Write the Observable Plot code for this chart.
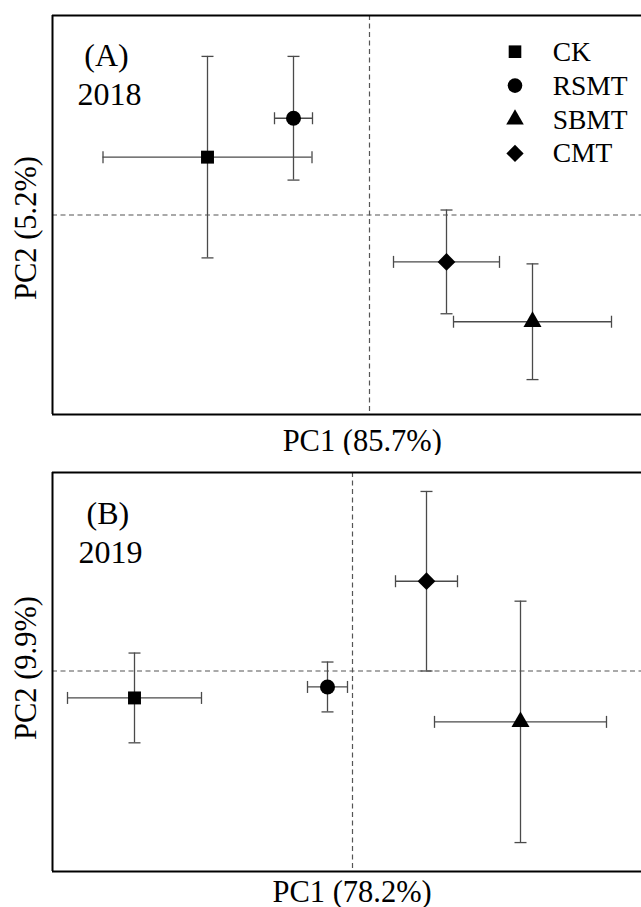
<!DOCTYPE html>
<html>
<head>
<meta charset="utf-8">
<script src="https://cdn.jsdelivr.net/npm/d3@7"></script>
<script src="https://cdn.jsdelivr.net/npm/@observablehq/plot@0.6"></script>
<style>
  html, body { margin: 0; padding: 0; background: #fff; overflow: hidden; }
  .panel { position: relative; width: 641px; }
  .panel svg { display: block; }
  .legend { position: absolute; left: 0; top: 0; pointer-events: none; }
</style>
</head>
<body>
<div id="chart"></div>
<script>
// ---- data ----
const categories = ["CK", "RSMT", "SBMT", "CMT"];
const symbols = ["square", "circle", "triangle", "diamond2"];
const symbolR = [7.3, 7.5, 6.7, 8];

const pc1_2018 = [-1.62, -0.76, 1.63, 0.77];
const pc1sd_2018 = [1.045, 0.19, 0.79, 0.53];
const pc2_2018 = [0.58, 0.97, -1.07, -0.47];
const pc2sd_2018 = [1.01, 0.62, 0.58, 0.52];

const pc1_2019 = [-2.18, -0.25, 1.68, 0.74];
const pc1sd_2019 = [0.67, 0.20, 0.86, 0.31];
const pc2_2019 = [-0.27, -0.16, -0.51, 0.90];
const pc2sd_2019 = [0.45, 0.25, 1.21, 0.90];

const panelLabels = ["(A)", "(B)"];
const yearLabels = ["2018", "2019"];
const xTitles = ["PC1 (85.7%)", "PC1 (78.2%)"];
const yTitles = ["PC2 (5.2%)", "PC2 (9.9%)"];

const FONT = "Liberation Serif, Times New Roman, Noto Serif, serif";
const BAR = "#4a4a4a";

function rows(px, pxsd, py, pysd) {
  return categories.map((c, i) => ({cat: c, x: px[i], xsd: pxsd[i], y: py[i], ysd: pysd[i], i}));
}

const capV = {draw(ctx) { ctx.moveTo(0, -6); ctx.lineTo(0, 6); }};
const capH = {draw(ctx) { ctx.moveTo(-6, 0); ctx.lineTo(6, 0); }};

function panel(opts) {
  const data = rows(...opts.series);
  const dash = {stroke: "#555", strokeWidth: 1.2, strokeDasharray: "5,3.5"};
  const bar = {stroke: BAR, strokeWidth: 1.3};
  const marks = [
    Plot.ruleX([0], dash),
    Plot.ruleY([0], dash),
    // horizontal error bars
    Plot.ruleY(data, {...bar, y: "y", x1: d => d.x - d.xsd, x2: d => d.x + d.xsd}),
    Plot.dot(data, {...bar, x: d => d.x - d.xsd, y: "y", symbol: capV, fill: "none"}),
    Plot.dot(data, {...bar, x: d => d.x + d.xsd, y: "y", symbol: capV, fill: "none"}),
    // vertical error bars
    Plot.ruleX(data, {...bar, x: "x", y1: d => d.y - d.ysd, y2: d => d.y + d.ysd}),
    Plot.dot(data, {...bar, x: "x", y: d => d.y - d.ysd, symbol: capH, fill: "none"}),
    Plot.dot(data, {...bar, x: "x", y: d => d.y + d.ysd, symbol: capH, fill: "none"}),
  ];
  categories.forEach((c, i) => {
    marks.push(Plot.dot(data.filter(d => d.i === i), {x: "x", y: "y", symbol: symbols[i], r: symbolR[i], fill: "black", stroke: "none"}));
  });
  // frame: left, top, bottom (right edge lies outside the picture)
  marks.push(Plot.ruleX([opts.xDomain[0]], {stroke: "black", strokeWidth: 2}));
  marks.push(Plot.ruleY([opts.yDomain[0]], {stroke: "black", strokeWidth: 2}));
  marks.push(Plot.ruleY([opts.yDomain[1]], {stroke: "black", strokeWidth: 2}));
  // texts
  const t = {text: d => d, textAnchor: "middle", lineAnchor: "middle", fill: "black", fontFamily: FONT};
  marks.push(Plot.text([opts.panelLabel], {...t, frameAnchor: "top-left", dx: opts.labelDx, dy: opts.labelDy, fontSize: 32}));
  marks.push(Plot.text([opts.year], {...t, frameAnchor: "top-left", dx: opts.yearDx, dy: opts.yearDy, fontSize: 32}));
  marks.push(Plot.text([opts.xTitle], {...t, frameAnchor: "bottom", dx: opts.xTitleDx, dy: opts.xTitleDy, fontSize: 30.5}));
  marks.push(Plot.text([opts.yTitle], {...t, frameAnchor: "left", dx: -26, dy: opts.yTitleDy, rotate: -90, fontSize: 30.5}));

  return Plot.plot({
    width: 641,
    height: opts.height,
    marginLeft: 52,
    marginRight: 0,
    marginTop: opts.marginTop,
    marginBottom: opts.marginBottom,
    x: {domain: opts.xDomain, axis: null},
    y: {domain: opts.yDomain, axis: null},
    style: {fontFamily: FONT, background: "white", overflow: "visible"},
    marks
  });
}

const container = document.getElementById("chart");

// Panel A
const divA = document.createElement("div");
divA.className = "panel";
divA.appendChild(panel({
  series: [pc1_2018, pc1sd_2018, pc2_2018, pc2sd_2018],
  height: 455, marginTop: 15, marginBottom: 41,
  xDomain: [-3.17, 2.72], yDomain: [-2, 2],
  panelLabel: panelLabels[0], year: yearLabels[0],
  labelDx: 54, labelDy: 40.5, yearDx: 57, yearDy: 79.5,
  xTitle: xTitles[0], xTitleDx: 15.3, xTitleDy: 26.5,
  yTitle: yTitles[0], yTitleDy: 13
}));

// Legend overlay (top-right of panel A)
const legend = d3.create("svg").attr("class", "legend").attr("width", 641).attr("height", 200)
  .attr("font-family", FONT);
const symType = {square: d3.symbolSquare, circle: d3.symbolCircle, triangle: d3.symbolTriangle, diamond2: d3.symbolDiamond2};
categories.forEach((c, i) => {
  const cy = 51.7 + i * 33.9;
  const sym = d3.symbol().type(symType[symbols[i]]).size(Math.PI * symbolR[i] * symbolR[i] * 0.95);
  legend.append("path").attr("d", sym()).attr("transform", `translate(515,${cy})`).attr("fill", "black");
  legend.append("text").attr("x", 552.7).attr("y", cy).attr("dy", "0.33em").attr("font-size", 27.5).attr("fill", "black").text(c);
});
divA.appendChild(legend.node());
container.appendChild(divA);

// Panel B
const divB = document.createElement("div");
divB.className = "panel";
divB.appendChild(panel({
  series: [pc1_2019, pc1sd_2019, pc2_2019, pc2sd_2019],
  height: 452, marginTop: 17, marginBottom: 36,
  xDomain: [-3.0, 2.89], yDomain: [-2.01, 1.99],
  panelLabel: panelLabels[1], year: yearLabels[1],
  labelDx: 55.3, labelDy: 41.3, yearDx: 58, yearDy: 80.5,
  xTitle: xTitles[1], xTitleDx: 5.1, xTitleDy: 20.3,
  yTitle: yTitles[1], yTitleDy: -4
}));
container.appendChild(divB);
</script>
</body>
</html>
